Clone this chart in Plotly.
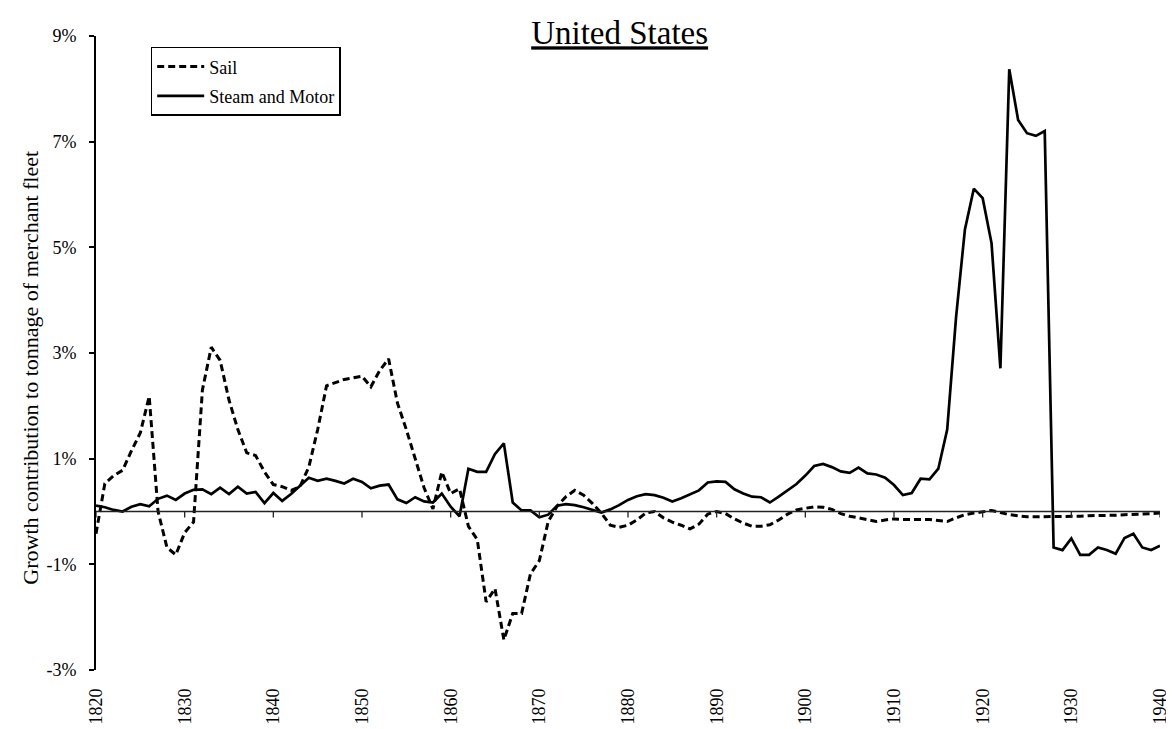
import plotly.graph_objects as go

# US merchant fleet: yearly growth contribution to tonnage (%)
years = list(range(1820, 1941))

sail = [
    -0.42, 0.53, 0.68, 0.78, 1.15, 1.49, 2.18, 0.00, -0.68, -0.82,
    -0.40, -0.20, 2.30, 3.11, 2.86, 2.11, 1.55, 1.11, 1.06, 0.75,
    0.51, 0.47, 0.40, 0.47, 0.84, 1.55, 2.38, 2.44, 2.50, 2.53,
    2.56, 2.36, 2.67, 2.89, 2.05, 1.55, 0.99, 0.45, 0.05, 0.75,
    0.34, 0.43, -0.28, -0.53, -1.71, -1.46, -2.43, -1.93, -1.93, -1.18,
    -0.93, -0.19, 0.10, 0.28, 0.40, 0.31, 0.15, -0.03, -0.26, -0.30,
    -0.26, -0.16, -0.03, 0.00, -0.12, -0.20, -0.26, -0.33, -0.24, -0.05,
    0.00, -0.04, -0.14, -0.22, -0.28, -0.28, -0.25, -0.16, -0.05, 0.03,
    0.06, 0.09, 0.08, 0.04, -0.04, -0.09, -0.12, -0.16, -0.19, -0.16,
    -0.14, -0.15, -0.15, -0.15, -0.15, -0.17, -0.19, -0.12, -0.06, -0.03,
    0.00, 0.02, -0.02, -0.06, -0.08, -0.10, -0.10, -0.10, -0.10, -0.10,
    -0.09, -0.09, -0.08, -0.08, -0.07, -0.07, -0.06, -0.06, -0.05, -0.04,
    -0.03,
]

steam = [
    0.11, 0.08, 0.03, 0.00, 0.09, 0.14, 0.10, 0.24, 0.30, 0.22,
    0.34, 0.41, 0.42, 0.33, 0.45, 0.33, 0.47, 0.34, 0.37, 0.16,
    0.35, 0.20, 0.33, 0.48, 0.64, 0.58, 0.62, 0.58, 0.53, 0.62,
    0.56, 0.44, 0.49, 0.51, 0.23, 0.16, 0.27, 0.19, 0.17, 0.34,
    0.09, -0.09, 0.81, 0.75, 0.75, 1.09, 1.29, 0.17, 0.02, 0.02,
    -0.11, -0.06, 0.11, 0.14, 0.12, 0.08, 0.03, -0.02, 0.04, 0.12,
    0.22, 0.29, 0.33, 0.31, 0.26, 0.19, 0.25, 0.32, 0.40, 0.55,
    0.57, 0.56, 0.42, 0.34, 0.28, 0.27, 0.17, 0.28, 0.40, 0.52,
    0.68, 0.86, 0.90, 0.84, 0.76, 0.73, 0.83, 0.72, 0.70, 0.64,
    0.50, 0.31, 0.35, 0.62, 0.61, 0.81, 1.55, 3.68, 5.34, 6.11,
    5.93, 5.08, 2.71, 8.37, 7.41, 7.16, 7.11, 7.20, -0.68, -0.73,
    -0.51, -0.82, -0.82, -0.68, -0.73, -0.80, -0.50, -0.42, -0.68, -0.73,
    -0.65,
]

x_ticks = list(range(1820, 1941, 10))
y_ticks = [-3, -1, 1, 3, 5, 7, 9]
y_labels = [f"{v}%" for v in y_ticks]

FONT = "Liberation Serif, Times New Roman, serif"

fig = go.Figure()

fig.add_trace(go.Scatter(
    x=years, y=sail, mode="lines", name="Sail", legendgroup="sail",
    line=dict(color="#000000", width=3, dash="7px,4px"),
))
fig.add_trace(go.Scatter(
    x=years, y=steam, mode="lines", name="Steam and Motor", legendgroup="steam",
    line=dict(color="#000000", width=2.7),
))

# horizontal axis line sits at zero, labels stay at the bottom
fig.add_hline(y=0, line=dict(color="#222222", width=1.3))
for yr in x_ticks:
    fig.add_shape(
        type="line", xref="x", yref="y", x0=yr, x1=yr,
        ysizemode="pixel", yanchor=0, y0=0, y1=-6,
        line=dict(color="#222222", width=1.3),
    )

fig.add_annotation(
    text="Growth contribution to tonnage of merchant fleet",
    xref="paper", yref="paper", x=-0.0612, y=0.4767,
    xanchor="center", yanchor="middle",
    textangle=-90, showarrow=False,
    font=dict(family=FONT, size=22, color="#000000"),
)

fig.update_layout(
    width=1174, height=729,
    margin=dict(l=88, r=15, t=28, b=58),
    paper_bgcolor="#ffffff",
    plot_bgcolor="#ffffff",
    font=dict(family=FONT, size=18, color="#000000"),
    title=dict(
        text="<u>United States</u>",
        x=0.521, xref="container", xanchor="center",
        y=0.966, yref="container", yanchor="middle",
        font=dict(family=FONT, size=33, color="#000000"),
    ),
    xaxis=dict(
        range=[1820, 1940],
        tickvals=x_ticks,
        tickangle=-90,
        showline=False, showgrid=False, zeroline=False,
        ticks="", ticklabelstandoff=14,
        tickfont=dict(family=FONT, size=18, color="#000000"),
    ),
    yaxis=dict(
        range=[-3, 9],
        tickvals=y_ticks, ticktext=y_labels,
        showline=True, linecolor="#000000", linewidth=2,
        ticks="outside", ticklen=5, tickwidth=2, tickcolor="#000000",
        showgrid=False, zeroline=False, ticklabelstandoff=9,
        tickfont=dict(family=FONT, size=18, color="#000000"),
    ),
    legend=dict(
        x=0.0514, y=0.983, xanchor="left", yanchor="top",
        bgcolor="#ffffff", bordercolor="#000000", borderwidth=1.5,
        itemwidth=47, tracegroupgap=3,
        font=dict(family=FONT, size=18, color="#000000"),
    ),
    showlegend=True,
)

fig.write_html("out.html")
